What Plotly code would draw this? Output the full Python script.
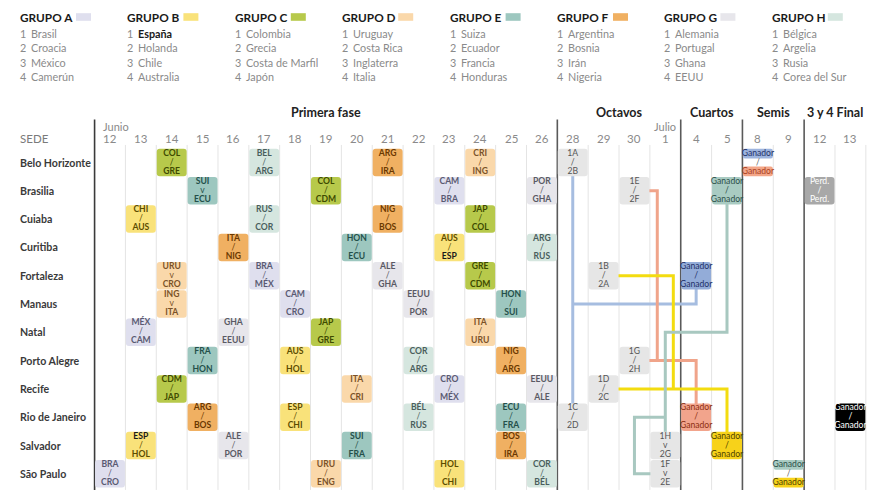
import plotly.graph_objects as go

# ---------------- DATA ----------------
GROUPS = ["A", "B", "C", "D", "E", "F", "G", "H"]
GROUP_COLORS = ["#dfdfee", "#f9e27a", "#b7c94b", "#fad8aa", "#9dc7bf", "#f0b062", "#e7e6eb", "#d5e6df"]
GROUP_TEXT = ["#5a5a72", "#5c4c00", "#3e4a00", "#7a5228", "#24504a", "#6b3800", "#5a5a64", "#4a5e5c"]
GROUP_TEAMS = [
    ["Brasil", "Croacia", "México", "Camerún"],
    ["España", "Holanda", "Chile", "Australia"],
    ["Colombia", "Grecia", "Costa de Marfil", "Japón"],
    ["Uruguay", "Costa Rica", "Inglaterra", "Italia"],
    ["Suiza", "Ecuador", "Francia", "Honduras"],
    ["Argentina", "Bosnia", "Irán", "Nigeria"],
    ["Alemania", "Portugal", "Ghana", "EEUU"],
    ["Bélgica", "Argelia", "Rusia", "Corea del Sur"],
]
HIGHLIGHT_TEAM = "España"
HIGHLIGHT_CODE = "ESP*"

VENUES = ["Belo Horizonte", "Brasilia", "Cuiaba", "Curitiba", "Fortaleza", "Manaus", "Natal",
          "Porto Alegre", "Recife", "Rio de Janeiro", "Salvador", "São Paulo"]
DATES = ["06-12", "06-13", "06-14", "06-15", "06-16", "06-17", "06-18", "06-19", "06-20", "06-21",
         "06-22", "06-23", "06-24", "06-25", "06-26", "06-28", "06-29", "06-30", "07-01",
         "07-04", "07-05", "07-08", "07-09", "07-12", "07-13"]
MONTH_NAMES = {"06": "Junio", "07": "Julio"}
PHASES = ["Primera fase", "Octavos", "Cuartos", "Semis", "3 y 4 Final"]
PHASE_FIRST = ["06-12", "06-28", "07-04", "07-08", "07-12"]
PHASE_LAST = ["06-26", "07-01", "07-05", "07-09", "07-13"]

# group stage matches
gm_date = ["06-12", "06-13", "06-13", "06-13", "06-14", "06-14", "06-14", "06-14",
           "06-15", "06-15", "06-15", "06-16", "06-16", "06-16", "06-17", "06-17", "06-17",
           "06-18", "06-18", "06-18", "06-19", "06-19", "06-19", "06-20", "06-20", "06-20",
           "06-21", "06-21", "06-21", "06-22", "06-22", "06-22", "06-23", "06-23", "06-23", "06-23",
           "06-24", "06-24", "06-24", "06-24", "06-25", "06-25", "06-25", "06-25",
           "06-26", "06-26", "06-26", "06-26"]
gm_venue = ["São Paulo", "Natal", "Salvador", "Cuiaba", "Belo Horizonte", "Fortaleza", "Manaus", "Recife",
            "Brasilia", "Porto Alegre", "Rio de Janeiro", "Curitiba", "Natal", "Salvador",
            "Belo Horizonte", "Cuiaba", "Fortaleza", "Manaus", "Porto Alegre", "Rio de Janeiro",
            "Brasilia", "Natal", "São Paulo", "Curitiba", "Recife", "Salvador",
            "Belo Horizonte", "Cuiaba", "Fortaleza", "Manaus", "Porto Alegre", "Rio de Janeiro",
            "Brasilia", "Curitiba", "Recife", "São Paulo", "Belo Horizonte", "Cuiaba", "Fortaleza", "Natal",
            "Manaus", "Porto Alegre", "Rio de Janeiro", "Salvador",
            "Brasilia", "Curitiba", "Recife", "São Paulo"]
gm_home = ["BRA", "MÉX", "ESP*", "CHI", "COL", "URU", "ING", "CDM",
           "SUI", "FRA", "ARG", "ITA", "GHA", "ALE", "BEL", "RUS", "BRA",
           "CAM", "AUS", "ESP", "COL", "JAP", "URU", "HON", "ITA", "SUI",
           "ARG", "NIG", "ALE", "EEUU", "COR", "BÉL", "CAM", "AUS", "CRO", "HOL",
           "CRI", "JAP", "GRE", "ITA", "HON", "NIG", "ECU", "BOS",
           "POR", "ARG", "EEUU", "COR"]
gm_away = ["CRO", "CAM", "HOL", "AUS", "GRE", "CRO", "ITA", "JAP",
           "ECU", "HON", "BOS", "NIG", "EEUU", "POR", "ARG", "COR", "MÉX",
           "CRO", "HOL", "CHI", "CDM", "GRE", "ENG", "ECU", "CRI", "FRA",
           "IRA", "BOS", "GHA", "POR", "ARG", "RUS", "BRA", "ESP*", "MÉX", "CHI",
           "ING", "COL", "CDM", "URU", "SUI", "ARG", "FRA", "IRA",
           "GHA", "RUS", "ALE", "BÉL"]
gm_sep = ["/", "/", "/", "/", "/", "v", "v", "/", "v"] + ["/"] * 39
gm_group = ["A", "A", "B", "B", "C", "D", "D", "C", "E", "E", "F", "F", "G", "G", "H", "H", "A",
            "A", "B", "B", "C", "C", "D", "E", "D", "E", "F", "F", "G", "G", "H", "H",
            "A", "B", "A", "B", "D", "C", "C", "D", "E", "F", "E", "F", "G", "H", "G", "H"]

# knockout matches
ko_date = ["06-28", "06-28", "06-29", "06-29", "06-30", "06-30", "07-01", "07-01",
           "07-04", "07-04", "07-05", "07-05", "07-08", "07-09", "07-12", "07-13"]
ko_venue = ["Belo Horizonte", "Rio de Janeiro", "Fortaleza", "Recife", "Brasilia", "Porto Alegre",
            "Salvador", "São Paulo", "Fortaleza", "Rio de Janeiro", "Brasilia", "Salvador",
            "Belo Horizonte", "São Paulo", "Brasilia", "Rio de Janeiro"]
ko_top = ["1A", "1C", "1B", "1D", "1E", "1G", "1H", "1F"] + ["Ganador"] * 6 + ["Perd.", "Ganador"]
ko_sep = ["/"] * 6 + ["v", "v"] + ["/"] * 8
ko_bottom = ["2B", "2D", "2A", "2C", "2F", "2H", "2G", "2E"] + ["Ganador"] * 6 + ["Perd.", "Ganador"]
ko_fill_top = ["#e6e6e6"] * 8 + ["#93acd8", "#f2a48c", "#a9cbc2", "#f7d21a", "#9db4de", "#a9cbc2", "#a8a8a8", "#000000"]
ko_fill_bottom = ["#e6e6e6"] * 8 + ["#93acd8", "#f2a48c", "#a9cbc2", "#f7d21a", "#f3a688", "#f7d21a", "#a8a8a8", "#000000"]
ko_text_top = ["#555555"] * 8 + ["#1f3168", "#8d2f12", "#2c5049", "#4d3f00", "#1f3168", "#2c5049", "#ffffff", "#ffffff"]
ko_text_bottom = ["#555555"] * 8 + ["#1f3168", "#8d2f12", "#2c5049", "#4d3f00", "#a8401e", "#4d3f00", "#ffffff", "#ffffff"]

# bracket connectors: waypoints (date, venue, column offset)
bracket_color = ["#a6bde0", "#a6bde0", "#f0a48a", "#f0a48a", "#f3dc10", "#f3dc10", "#a8c8c0", "#a8c8c0"]
bracket_points = [
    [("06-28", "Belo Horizonte", 0), ("06-28", "Rio de Janeiro", 0)],
    [("06-28", "Manaus", 0), ("07-04", "Manaus", 0), ("07-04", "Fortaleza", 0)],
    [("06-30", "Brasilia", 0), ("06-30", "Brasilia", 0.74), ("06-30", "Porto Alegre", 0.74)],
    [("06-30", "Porto Alegre", 0), ("07-04", "Porto Alegre", 0), ("07-04", "Rio de Janeiro", 0)],
    [("06-29", "Fortaleza", 0), ("07-01", "Fortaleza", 0.26), ("07-01", "Recife", 0.26)],
    [("06-29", "Recife", 0), ("07-05", "Recife", 0), ("07-05", "Salvador", 0)],
    [("07-05", "Brasilia", 0), ("07-05", "Natal", 0), ("07-01", "Natal", 0), ("07-01", "Salvador", 0)],
    [("07-01", "Rio de Janeiro", 0), ("06-30", "Rio de Janeiro", 0), ("06-30", "São Paulo", 0), ("07-01", "São Paulo", 0)],
]

# ---------------- LAYOUT HELPERS ----------------
W, H = 880, 495
XPX0, XSTEP = 110, 30.85
YPX0, YSTEP = 162.5, 28.3
FONT = "Lato"
col = {d: i for i, d in enumerate(DATES)}
row = {v: i for i, v in enumerate(VENUES)}
HW, HH = 0.485, 0.485
LINE_DY = 0.318


def px(x):
    return x / W


def py(y):
    return 1 - y / H


def rrect(x0, x1, y0, y1, rpx=3.0):
    rx, ry = rpx / XSTEP, rpx / YSTEP
    return (f"M{x0 + rx},{y0} L{x1 - rx},{y0} Q{x1},{y0} {x1},{y0 + ry} "
            f"L{x1},{y1 - ry} Q{x1},{y1} {x1 - rx},{y1} L{x0 + rx},{y1} "
            f"Q{x0},{y1} {x0},{y1 - ry} L{x0},{y0 + ry} Q{x0},{y0} {x0 + rx},{y0} Z")


shapes = []
annotations = []

# faint column separators and phase separators
phase_bounds = [col[PHASE_FIRST[0]] - 0.5] + [col[d] + 0.5 for d in PHASE_LAST[:-1]]
for i in range(len(DATES)):
    b = i + 0.5
    if b in phase_bounds:
        continue
    shapes.append(dict(type="line", xref="x", yref="y", x0=b, x1=b, y0=-0.62, y1=11.57,
                       line=dict(color="#e4e4e4", width=1), layer="below"))
for k, b in enumerate(phase_bounds):
    shapes.append(dict(type="line", xref="x", yref="y", x0=b, x1=b, y0=-1.52, y1=11.57,
                       line=dict(color="#3a3a3a" if k == 0 else "#5a5a5a", width=1.6), layer="below"))

# bracket connectors
for c, pts in zip(bracket_color, bracket_points):
    coords = [(col[d] + dx, row[v]) for d, v, dx in pts]
    path = "M" + " L".join(f"{x},{y}" for x, y in coords)
    shapes.append(dict(type="path", xref="x", yref="y", path=path,
                       line=dict(color=c, width=3), layer="below"))

# text points for boxes
tx, ty, tt, tc = [], [], [], []


def code_label(code):
    if code == HIGHLIGHT_CODE:
        return f"<b>{code.rstrip('*')}</b>", "#1a1a1a"
    return f"<b>{code}</b>", None


# group stage boxes
for d, v, h, a, s, g in zip(gm_date, gm_venue, gm_home, gm_away, gm_sep, gm_group):
    x, y = col[d], row[v]
    gi = GROUPS.index(g)
    shapes.append(dict(type="path", xref="x", yref="y", path=rrect(x - HW, x + HW, y - HH, y + HH),
                       fillcolor=GROUP_COLORS[gi], line=dict(width=0), layer="below"))
    for off, code in zip((-LINE_DY, LINE_DY), (h, a)):
        lbl, cc = code_label(code)
        tx.append(x); ty.append(y + off); tt.append(lbl); tc.append(cc or GROUP_TEXT[gi])
    tx.append(x); ty.append(y); tt.append(s); tc.append(GROUP_TEXT[gi])

# knockout boxes
for d, v, t, s, b, ft, fb, ct, cb in zip(ko_date, ko_venue, ko_top, ko_sep, ko_bottom,
                                          ko_fill_top, ko_fill_bottom, ko_text_top, ko_text_bottom):
    x, y = col[d], row[v]
    if ft == fb:
        shapes.append(dict(type="path", xref="x", yref="y", path=rrect(x - HW, x + HW, y - HH, y + HH),
                           fillcolor=ft, line=dict(width=0), layer="below"))
        cm = ct
    else:
        shapes.append(dict(type="path", xref="x", yref="y", path=rrect(x - HW, x + HW, y - HH, y - 0.14, 2),
                           fillcolor=ft, line=dict(width=0), layer="below"))
        shapes.append(dict(type="path", xref="x", yref="y", path=rrect(x - HW, x + HW, y + 0.14, y + HH, 2),
                           fillcolor=fb, line=dict(width=0), layer="below"))
        cm = "#666666"
    for off, txt, cc in zip((-LINE_DY, 0, LINE_DY), (t, s, b), (ct, cm, cb)):
        tx.append(x); ty.append(y + off); tt.append(txt); tc.append(cc)

fig = go.Figure()
fig.add_trace(go.Scatter(x=tx, y=ty, text=tt, mode="text", textposition="middle center",
                         textfont=dict(family=FONT, size=8.6, color=tc), hoverinfo="skip",
                         cliponaxis=False, showlegend=False))

# header: day numbers
for d in DATES:
    annotations.append(dict(x=col[d], y=-0.84, xref="x", yref="y", text=str(int(d[3:])), showarrow=False,
                            font=dict(family=FONT, size=11.5, color="#8a8a8a"), xanchor="center", yanchor="middle"))
# month labels
first_of_month = {}
for d in DATES:
    first_of_month.setdefault(d[:2], d)
for m, d in first_of_month.items():
    if col[d] == 0:
        annotations.append(dict(x=col[d] - 0.29, y=-1.27, xref="x", yref="y", text=MONTH_NAMES[m], showarrow=False,
                                font=dict(family=FONT, size=11, color="#8a8a8a"), xanchor="left", yanchor="middle"))
    else:
        annotations.append(dict(x=col[d], y=-1.27, xref="x", yref="y", text=MONTH_NAMES[m], showarrow=False,
                                font=dict(family=FONT, size=11, color="#8a8a8a"), xanchor="center", yanchor="middle"))
# phase titles
for p, f, l in zip(PHASES, PHASE_FIRST, PHASE_LAST):
    annotations.append(dict(x=(col[f] + col[l]) / 2, y=-1.77, xref="x", yref="y", text=f"<b>{p}</b>",
                            showarrow=False, font=dict(family=FONT, size=12.5, color="#222222"),
                            xanchor="center", yanchor="middle"))
# venue column
annotations.append(dict(x=px(18), y=-0.84, xref="paper", yref="y", text="SEDE", showarrow=False,
                        font=dict(family=FONT, size=11.5, color="#7a7a7a"), xanchor="left", yanchor="middle"))
for v in VENUES:
    annotations.append(dict(x=px(18), y=row[v], xref="paper", yref="y", text=f"<b>{v}</b>", showarrow=False,
                            font=dict(family=FONT, size=10.6, color="#3a3a3a"), xanchor="left", yanchor="middle"))

# group legend
for gi, g in enumerate(GROUPS):
    gx = 18 + 107.4 * gi
    annotations.append(dict(x=px(gx), y=py(17.3), xref="paper", yref="paper", text=f"<b>GRUPO {g}</b>",
                            showarrow=False, font=dict(family=FONT, size=11.8, color="#1a1a1a"),
                            xanchor="left", yanchor="middle"))
    shapes.append(dict(type="rect", xref="paper", yref="paper", x0=px(gx + 58), x1=px(gx + 73),
                       y0=py(20.8), y1=py(13.2), fillcolor=GROUP_COLORS[gi], line=dict(width=0)))
    for k, team in enumerate(GROUP_TEAMS[gi]):
        yy = 33.3 + 14.5 * k
        annotations.append(dict(x=px(gx), y=py(yy), xref="paper", yref="paper", text=str(k + 1),
                                showarrow=False, font=dict(family=FONT, size=10.8, color="#8a8a8a"),
                                xanchor="left", yanchor="middle"))
        if team == HIGHLIGHT_TEAM:
            txt, colr = f"<b>{team}</b>", "#1a1a1a"
        else:
            txt, colr = team, "#8a8a8a"
        annotations.append(dict(x=px(gx + 11), y=py(yy), xref="paper", yref="paper", text=txt,
                                showarrow=False, font=dict(family=FONT, size=10.8, color=colr),
                                xanchor="left", yanchor="middle"))

fig.update_layout(
    width=W, height=H, margin=dict(l=0, r=0, t=0, b=0),
    paper_bgcolor="white", plot_bgcolor="white",
    xaxis=dict(range=[(0 - XPX0) / XSTEP, (W - XPX0) / XSTEP], visible=False, fixedrange=True),
    yaxis=dict(range=[(H - YPX0) / YSTEP, (0 - YPX0) / YSTEP], visible=False, fixedrange=True),
    shapes=shapes, annotations=annotations, showlegend=False,
)

fig.write_html("out.html", config={"displayModeBar": False},
               post_script="document.body.style.margin='0';document.body.style.overflow='hidden';")
